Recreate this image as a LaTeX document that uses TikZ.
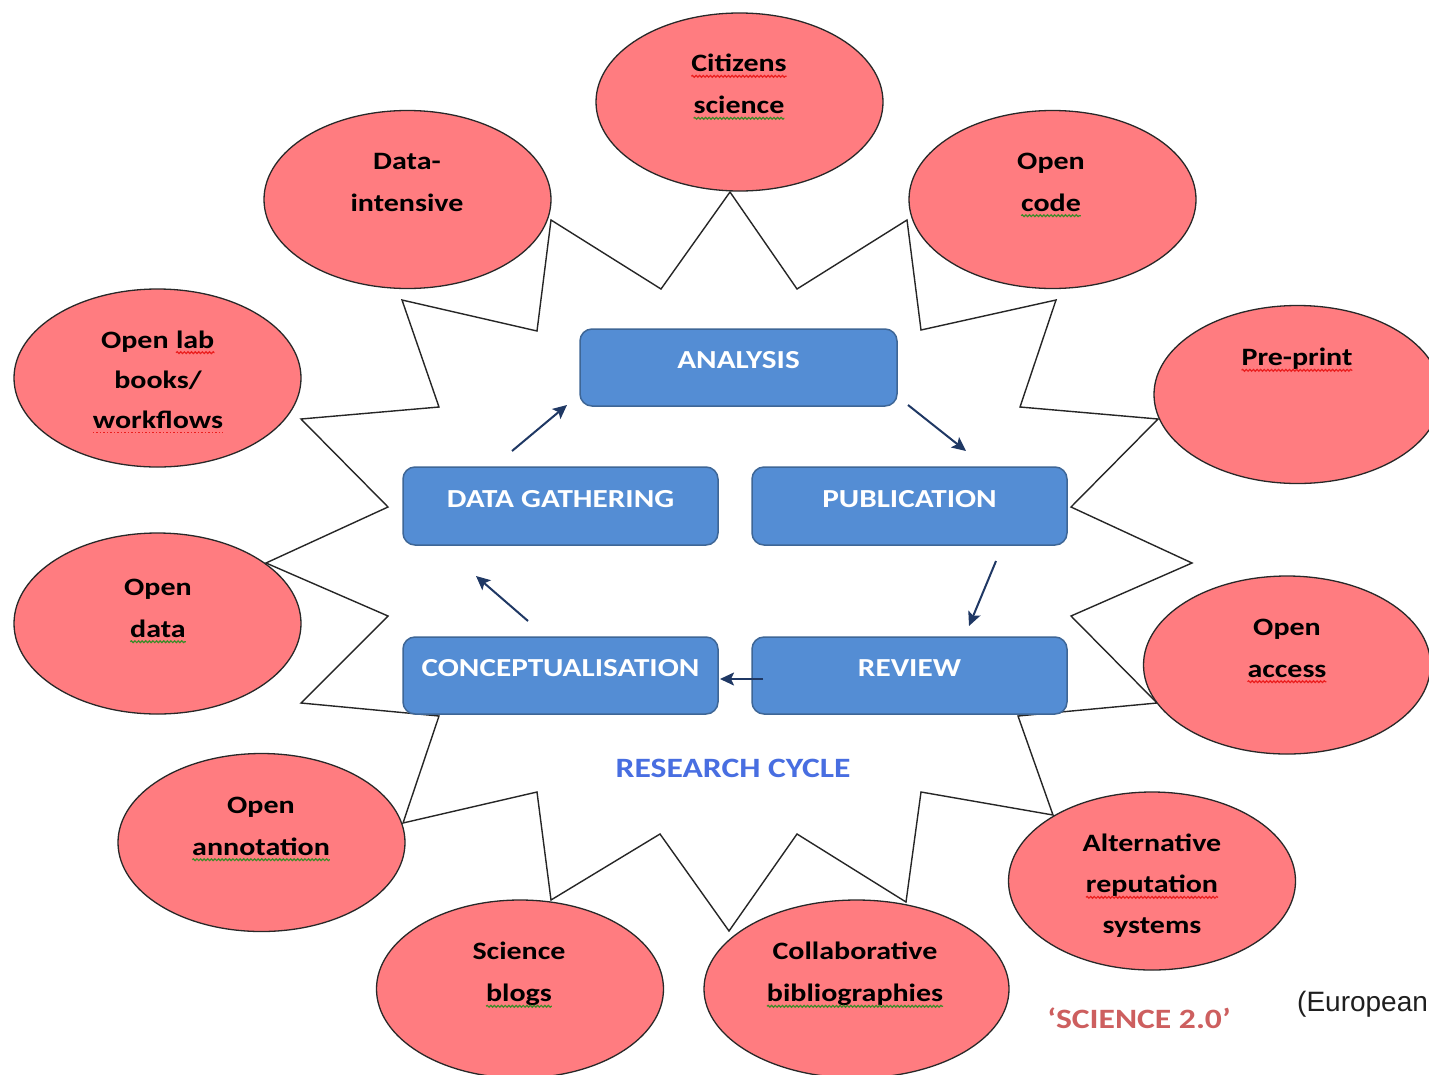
\documentclass[tikz,border=0pt]{standalone}
\usepackage{fontspec}
\setmainfont{Carlito}[FakeStretch=1.2]
\newfontfamily\notefont{Liberation Sans}
\usetikzlibrary{arrows.meta,shapes.geometric,decorations.pathmorphing}

\definecolor{bubblefill}{RGB}{255,124,128}
\definecolor{bubbleline}{RGB}{40,40,40}
\definecolor{boxfill}{RGB}{84,141,212}
\definecolor{boxline}{RGB}{62,102,150}
\definecolor{arrowc}{RGB}{31,56,100}
\definecolor{cyclec}{RGB}{72,110,225}
\definecolor{sciencec}{RGB}{205,95,95}
\definecolor{spellred}{RGB}{235,30,30}
\definecolor{grammargreen}{RGB}{60,140,40}

\tikzset{
  spelling/.style={spellred,line width=1.2pt,decorate,decoration={snake,amplitude=0.9pt,segment length=3.6pt}},
  grammar/.style={grammargreen,line width=1.2pt,decorate,decoration={snake,amplitude=0.9pt,segment length=3.6pt}},
  spelldots/.style={spellred,line width=1.5pt,dash pattern=on 1.5pt off 2pt},
}
% a word with a proofing mark under it
\newcommand\markword[2]{\tikz[baseline=(ww.base)]{\node[inner sep=0pt,outer sep=0pt](ww){#2};\draw[#1]([yshift=-4.5pt]ww.base west)--([yshift=-4.5pt]ww.base east);}}

\begin{document}
\begin{tikzpicture}[x=1pt,y=-1pt,
  bubble/.style={ellipse,draw=bubbleline,line width=1.3pt,fill=bubblefill,
    minimum width=287pt,minimum height=178pt,inner sep=0pt},
  bubbletext/.style={font=\bfseries\fontsize{25}{42}\selectfont,align=center,text=black,inner sep=0pt},
  stage/.style={draw=boxline,line width=1.5pt,fill=boxfill,rounded corners=12pt,
    minimum width=315pt,minimum height=78pt,text=white,
    font=\bfseries\fontsize{26}{30}\selectfont,text height=18pt,text depth=16pt,inner sep=0pt},
  flow/.style={draw=arrowc,line width=2pt,-{Stealth[length=14pt,width=13pt,inset=3pt]}},
  outline/.style={draw=black!85,line width=1.4pt,line join=miter},
  caption/.style={font=\bfseries\fontsize{28}{32}\selectfont,inner sep=0pt}]

\useasboundingbox (0,0) rectangle (1429,1074);
\fill[white] (0,0) rectangle (1429,1074);
\clip (0,0) rectangle (1429,1074);

% jagged outline around the research cycle
\draw[outline] (730,192) -- (661,289) -- (551,220) -- (537,331) -- (402,300)
  -- (439,407) -- (301,419) -- (388,507) -- (266,563) -- (388,616) -- (301,703)
  -- (439,716) -- (403,823) -- (537,792) -- (551,900) -- (660,834) -- (729,931)
  -- (797,834) -- (906,902) -- (921,792) -- (1053,815) -- (1018,716) -- (1157,703)
  -- (1071,616) -- (1192,563) -- (1071,507) -- (1158,419) -- (1020,407)
  -- (1056,300) -- (921,330) -- (907,220) -- (797,289) -- cycle;

% Science 2.0 practices
\node[bubble] (cit)   at (739.5,102) {};
\node[bubble] (dint)  at (407.5,199.5) {};
\node[bubble] (ocode) at (1052.5,199.5) {};
\node[bubble] (pre)   at (1297.5,394.5) {};
\node[bubble] (olab)  at (157.5,378) {};
\node[bubble,minimum height=181pt] (odata) at (157.5,623.5) {};
\node[bubble] (oacc)  at (1287,665) {};
\node[bubble] (oann)  at (261.5,842.5) {};
\node[bubble] (sblog) at (520,989) {};
\node[bubble,minimum width=305pt] (colb) at (856.5,989) {};
\node[bubble] (alt)   at (1152,881) {};

\node[bubbletext] (cit-t)   at (739,87) {\markword{spelling}{Citizens}\\\markword{grammar}{science}};
\node[bubbletext] (dint-t)  at (407,182) {Data-\\intensive};
\node[bubbletext] (ocode-t) at (1051,185) {Open\\\markword{grammar}{code}};
\node[bubbletext] (pre-t)   at (1297,360) {\markword{spelling}{Pre-print}};
\node[bubbletext,font=\bfseries\fontsize{25}{40}\selectfont] (olab-t) at (158,382) {Open \markword{spelling}{lab}\\books/\\\markword{spelldots}{workflows}};
\node[bubbletext] (odata-t) at (158,611) {Open\\\markword{grammar}{data}};
\node[bubbletext] (oacc-t)  at (1287,651) {Open\\\markword{spelling}{access}};
\node[bubbletext] (oann-t)  at (261,829) {Open\\\markword{grammar}{annotation}};
\node[bubbletext] (sblog-t) at (519,975) {Science\\\markword{grammar}{blogs}};
\node[bubbletext] (colb-t)  at (855,975) {Collaborative\\\markword{grammar}{bibliographies}};
\node[bubbletext,font=\bfseries\fontsize{25}{41}\selectfont] (alt-t) at (1152,886) {Alternative\\\markword{spelling}{reputation}\\systems};

% research cycle stages
\node[stage,minimum width=317pt,minimum height=77pt] (ana) at (738.5,367.5) {ANALYSIS};
\node[stage] (dat) at (560.5,506) {DATA GATHERING};
\node[stage] (pub) at (909.5,506) {PUBLICATION};
\node[stage,minimum height=77pt] (con) at (560.5,675.5) {CONCEPTUALISATION};
\node[stage,minimum height=77pt] (rev) at (909.5,675.5) {REVIEW};

% arrow end points between the stages
\coordinate (d2a) at (512,451);  \coordinate (a-in) at (567,405);
\coordinate (a2p) at (908,405);  \coordinate (p-in) at (966,451);
\coordinate (p2r) at (996,561);  \coordinate (r-in) at (969,626);
\coordinate (r2c) at (763,679);  \coordinate (c-in) at (720,679);
\coordinate (c2d) at (528,621);  \coordinate (d-in) at (476,576);
\draw[flow] (d2a) -- (a-in);
\draw[flow] (a2p) -- (p-in);
\draw[flow] (p2r) -- (r-in);
\draw[flow] (r2c) -- (c-in);
\draw[flow] (c2d) -- (d-in);

\node[caption,text=cyclec] (cycle) at (733,768) {RESEARCH CYCLE};
\node[caption,text=sciencec] (sci) at (1139,1018) {‘SCIENCE 2.0’};
\node[font=\notefont\fontsize{28}{32}\selectfont,text=black!88,anchor=west,inner sep=0pt] (src) at (1297,1004) {(European};
\end{tikzpicture}
\end{document}
